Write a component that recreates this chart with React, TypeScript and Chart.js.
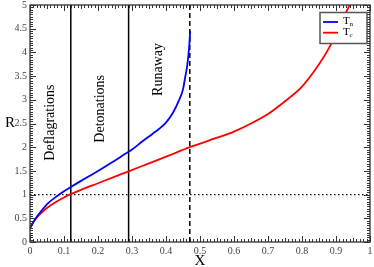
import React, { useEffect, useRef } from "react";
import { Chart, registerables } from "chart.js";

Chart.register(...registerables);

// Blue curve: T_n
const tnX = [0, 0.01, 0.02, 0.035, 0.055, 0.08, 0.1, 0.12, 0.15, 0.2, 0.25, 0.28, 0.3, 0.33, 0.36, 0.38, 0.4, 0.42, 0.44, 0.45, 0.456, 0.462, 0.466, 0.469, 0.471];
const tnR = [0.29, 0.42, 0.53, 0.67, 0.83, 0.97, 1.07, 1.16, 1.29, 1.5, 1.72, 1.86, 1.95, 2.12, 2.28, 2.39, 2.52, 2.72, 3.02, 3.22, 3.46, 3.7, 3.95, 4.2, 4.45];
// Red curve: T_c
const tcX = [0, 0.01, 0.02, 0.04, 0.06, 0.08, 0.1, 0.12, 0.15, 0.2, 0.25, 0.29, 0.35, 0.4, 0.47, 0.55, 0.6, 0.65, 0.7, 0.75, 0.8, 0.85, 0.88, 0.9, 0.92, 0.94];
const tcR = [0.29, 0.42, 0.52, 0.66, 0.77, 0.86, 0.94, 1.01, 1.1, 1.24, 1.38, 1.49, 1.66, 1.8, 2.0, 2.2, 2.33, 2.5, 2.7, 2.97, 3.28, 3.75, 4.1, 4.4, 4.7, 5.0];

const solidLinesX = [0.12, 0.29];
const dashedLineX = 0.47;
const dottedLineR = 1;

const xTickLabels = ["0", "0.1", "0.2", "0.3", "0.4", "0.5", "0.6", "0.7", "0.8", "0.9", "1"];
const yTickLabels = ["0", "0.5", "1", "1.5", "2", "2.5", "3", "3.5", "4", "4.5", "5"];

const regionLabels = ["Deflagrations", "Detonations", "Runaway"];
const regionX = [0.059, 0.206, 0.376];
const regionR = [2.52, 2.81, 3.64];

const legendNames = ["n", "c"];
const seriesColors = ["#0000ff", "#ff0000"];

const SERIF = "'Liberation Serif', 'DejaVu Serif', serif";

const decorPlugin = {
  id: "decor",
  afterDraw(chart: any) {
    const { ctx, chartArea: a, scales } = chart;
    const xs = scales.x;
    const ys = scales.y;
    ctx.save();
    // frame
    ctx.strokeStyle = "#333";
    ctx.lineWidth = 1.3;
    ctx.strokeRect(a.left, a.top, a.right - a.left, a.bottom - a.top);
    // ticks
    ctx.lineWidth = 1;
    ctx.beginPath();
    for (let i = 0; i <= 100; i++) {
      const px = Math.round(xs.getPixelForValue(i / 100)) + 0.5;
      const len = i % 10 === 0 ? 6 : i % 5 === 0 ? 4 : 3;
      ctx.moveTo(px, a.bottom);
      ctx.lineTo(px, a.bottom - len);
      ctx.moveTo(px, a.top);
      ctx.lineTo(px, a.top + len);
    }
    for (let i = 0; i <= 100; i++) {
      const py = Math.round(ys.getPixelForValue(i * 0.05)) + 0.5;
      const len = i % 10 === 0 ? 6 : 3;
      ctx.moveTo(a.left, py);
      ctx.lineTo(a.left + len, py);
      ctx.moveTo(a.right, py);
      ctx.lineTo(a.right - len, py);
    }
    ctx.stroke();

    // region labels (rotated)
    ctx.fillStyle = "#000";
    ctx.font = `14px ${SERIF}`;
    ctx.textAlign = "center";
    ctx.textBaseline = "middle";
    regionLabels.forEach((t, i) => {
      ctx.save();
      ctx.translate(xs.getPixelForValue(regionX[i]), ys.getPixelForValue(regionR[i]));
      ctx.rotate(-Math.PI / 2);
      ctx.fillText(t, 0, 0);
      ctx.restore();
    });

    // R axis title (upright)
    ctx.font = `15px ${SERIF}`;
    ctx.fillText("R", 10, (a.top + a.bottom) / 2);

    // legend
    const bx = a.right - 50;
    const by = a.top + 7.5;
    const bw = 47;
    const bh = 31;
    ctx.fillStyle = "#fff";
    ctx.fillRect(bx, by, bw, bh);
    ctx.strokeStyle = "#555";
    ctx.lineWidth = 1.5;
    ctx.strokeRect(bx, by, bw, bh);
    legendNames.forEach((n, i) => {
      const ly = by + 9.5 + i * 10.7;
      ctx.strokeStyle = seriesColors[i];
      ctx.lineWidth = 1.8;
      ctx.beginPath();
      ctx.moveTo(bx + 3, ly);
      ctx.lineTo(bx + 18, ly);
      ctx.stroke();
      ctx.fillStyle = "#000";
      ctx.textAlign = "left";
      ctx.textBaseline = "middle";
      ctx.font = `11px ${SERIF}`;
      ctx.fillText("T", bx + 23, ly - 1);
      ctx.font = `7px ${SERIF}`;
      ctx.fillText(n, bx + 29.5, ly + 2.5);
    });
    ctx.restore();
  },
};

export default function App() {
  const ref = useRef<HTMLCanvasElement | null>(null);
  useEffect(() => {
    if (!ref.current) return;
    const vline = (x: number, dash: number[], w: number) => ({
      type: "line" as const,
      data: [
        { x, y: 0 },
        { x, y: 5 },
      ],
      borderColor: "#000",
      borderWidth: w,
      borderDash: dash,
      pointRadius: 0,
      fill: false,
    });
    const chart = new Chart(ref.current, {
      type: "line",
      data: {
        datasets: [
          {
            label: "Tn",
            data: tnX.map((x, i) => ({ x, y: tnR[i] })),
            borderColor: seriesColors[0],
            borderWidth: 1.8,
            pointRadius: 0,
            cubicInterpolationMode: "monotone",
            fill: false,
          },
          {
            label: "Tc",
            data: tcX.map((x, i) => ({ x, y: tcR[i] })),
            borderColor: seriesColors[1],
            borderWidth: 1.8,
            pointRadius: 0,
            cubicInterpolationMode: "monotone",
            fill: false,
          },
          ...solidLinesX.map((x) => vline(x, [], 1.5)),
          vline(dashedLineX, [5, 3], 1.5),
          {
            type: "line" as const,
            data: [
              { x: 0, y: dottedLineR },
              { x: 1, y: dottedLineR },
            ],
            borderColor: "#000",
            borderWidth: 1.2,
            borderDash: [1.5, 2.5],
            pointRadius: 0,
            fill: false,
          },
        ],
      },
      options: {
        animation: false,
        responsive: true,
        maintainAspectRatio: false,
        layout: { padding: { top: 5, right: 4, left: 0, bottom: 0 } },
        plugins: { legend: { display: false }, tooltip: { enabled: false } },
        scales: {
          x: {
            type: "linear",
            min: 0,
            max: 1,
            grid: { display: false, drawTicks: false },
            border: { display: false },
            afterFit: (s: any) => {
              s.height = 25;
              s.paddingLeft = 0;
              s.paddingRight = 0;
            },
            afterBuildTicks: (s: any) => {
              s.ticks = xTickLabels.map((l) => ({ value: parseFloat(l) }));
            },
            ticks: {
              padding: 3,
              color: "#444",
              font: { family: SERIF, size: 10 },
              maxRotation: 0,
              callback: (_v: any, i: number) => xTickLabels[i],
            },
            title: {
              display: true,
              text: "X",
              color: "#000",
              font: { family: SERIF, size: 15 },
              padding: { top: 0, bottom: -3 },
            },
          },
          y: {
            type: "linear",
            min: 0,
            max: 5,
            grid: { display: false, drawTicks: false },
            border: { display: false },
            afterFit: (s: any) => {
              s.width = 30;
              s.paddingTop = 0;
              s.paddingBottom = 0;
            },
            afterBuildTicks: (s: any) => {
              s.ticks = yTickLabels.map((l) => ({ value: parseFloat(l) }));
            },
            ticks: {
              padding: 3,
              color: "#444",
              font: { family: SERIF, size: 10 },
              callback: (_v: any, i: number) => yTickLabels[i],
            },
          },
        },
      },
      plugins: [decorPlugin],
    });
    return () => chart.destroy();
  }, []);
  return (
    <div style={{ position: "absolute", left: 0, top: 0, width: 374, height: 267, background: "#fff" }}>
      <canvas ref={ref} />
    </div>
  );
}
